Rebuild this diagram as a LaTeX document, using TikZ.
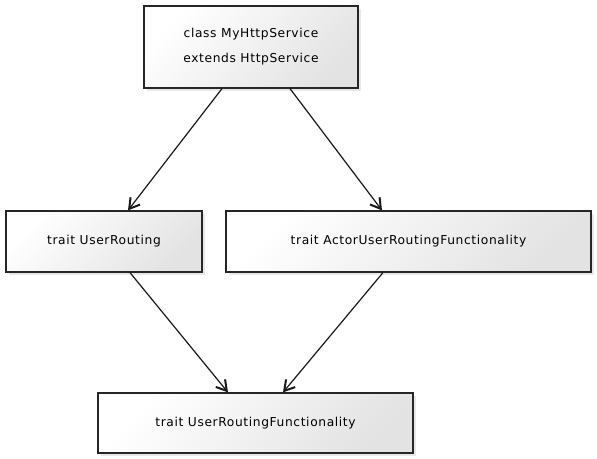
\documentclass[tikz,border=0pt]{standalone}
\usepackage{fontspec}
\setmainfont{DejaVu Sans}[LetterSpace=5]
\usetikzlibrary{arrows.meta,calc,shadows}

\tikzset{
  classbox/.style={draw=black!85, line width=0.9pt, top color=white, bottom color=black!11,
    shading angle=45, drop shadow={shadow xshift=2.5pt, shadow yshift=-2.5pt, opacity=0.18},
    inner sep=0pt, align=center, font=\fontsize{9.2}{18.6}\selectfont},
  inherits/.style={draw=black!90, line width=0.9pt, -{Straight Barb[length=7.5pt,width=9pt,line width=1.5pt]}}
}

\begin{document}
\begin{tikzpicture}[x=0.75pt,y=0.75pt,yscale=-1,xscale=1]
    \useasboundingbox (0,0) rectangle (597,459);

    % Boxes
    \node [classbox, minimum width=214*0.75pt, minimum height=82*0.75pt] (service) at (251,47)
      {class MyHttpService\\extends HttpService};
    \node [classbox, minimum width=196*0.75pt, minimum height=61*0.75pt] (routing) at (104,241.5)
      {trait UserRouting};
    \node [classbox, minimum width=365*0.75pt, minimum height=61*0.75pt] (actor) at (408.5,241.5)
      {trait ActorUserRoutingFunctionality};
    \node [classbox, minimum width=315*0.75pt, minimum height=60*0.75pt] (functionality) at (255.5,423)
      {trait UserRoutingFunctionality};

    % Arrows
    \draw [inherits] ($(service.south)+(-29,0)$) -- ($(routing.north)+(24,0)$);
    \draw [inherits] ($(service.south)+(39,0)$) -- ($(actor.north)+(-26.5,0)$);
    \draw [inherits] ($(routing.south)+(26,0)$) -- ($(functionality.north)+(-27.5,0)$);
    \draw [inherits] ($(actor.south)+(-25.5,0)$) -- ($(functionality.north)+(27.5,0)$);
\end{tikzpicture}
\end{document}
